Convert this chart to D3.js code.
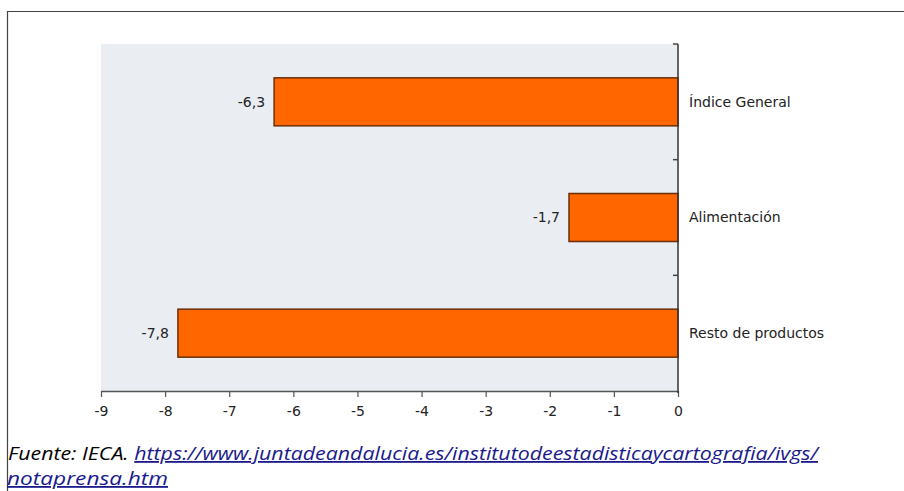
<!DOCTYPE html>
<html>
<head>
<meta charset="utf-8">
<script src="https://cdn.jsdelivr.net/npm/d3@7"></script>
<style>
  html, body { margin: 0; padding: 0; background: #fff; }
  svg { display: block; }
</style>
</head>
<body>
<svg id="chart" width="904" height="491"></svg>
<script>
// Variación interanual de ventas (%), por tipo de producto
const categories = ["Índice General", "Alimentación", "Resto de productos"];
const values = [-6.3, -1.7, -7.8];
const xTicks = [-9, -8, -7, -6, -5, -4, -3, -2, -1, 0];
const sourceLabel = "Fuente: IECA. ";
const sourceUrlLine1 = "https://www.juntadeandalucia.es/institutodeestadisticaycartografia/ivgs/";
const sourceUrlLine2 = "notaprensa.htm";

const svg = d3.select("#chart");
const plot = { left: 101, right: 678, top: 44, bottom: 391 };
const labelFont = "DejaVu Sans, Verdana, sans-serif";
const labelSize = 14;

// Marco exterior (línea superior e izquierda)
svg.append("path")
  .attr("d", "M7.5,491 V11.5 H904")
  .attr("fill", "none")
  .attr("stroke", "#444")
  .attr("stroke-width", 1.2);

// Fondo del área de trazado
svg.append("rect")
  .attr("x", plot.left).attr("y", plot.top)
  .attr("width", plot.right - plot.left).attr("height", plot.bottom - plot.top)
  .attr("fill", "#eaedf1");

const x = d3.scaleLinear().domain([-9, 0]).range([plot.left, plot.right]);
const y = d3.scaleBand().domain(categories).range([plot.top, plot.bottom])
  .paddingInner(0.585).paddingOuter(0.2925);
const yGrid = d3.scaleBand().domain(categories).range([plot.top, plot.bottom]);

// Barras
svg.append("g").selectAll("rect")
  .data(categories)
  .join("rect")
  .attr("x", (d, i) => x(values[i]))
  .attr("y", d => y(d))
  .attr("width", (d, i) => x(0) - x(values[i]))
  .attr("height", y.bandwidth())
  .attr("fill", "#ff6600")
  .attr("stroke", "#6a2f06")
  .attr("stroke-width", 1.5);

// Etiquetas de valor
const fmt = v => d3.format(".1f")(v).replace(".", ",").replace("−", "-");
svg.append("g").selectAll("text")
  .data(categories)
  .join("text")
  .attr("x", (d, i) => x(values[i]) - 9)
  .attr("y", d => y(d) + y.bandwidth() / 2)
  .attr("dy", "0.35em")
  .attr("text-anchor", "end")
  .attr("font-family", labelFont)
  .attr("font-size", labelSize)
  .attr("fill", "#222")
  .text((d, i) => fmt(values[i]));

// Eje horizontal
const xAxis = svg.append("g")
  .attr("transform", `translate(0,${plot.bottom})`)
  .call(d3.axisBottom(x).tickValues(xTicks).tickFormat(d => String(d)).tickSize(6).tickPadding(9).tickSizeOuter(0));
xAxis.select(".domain").attr("stroke", "#555").attr("stroke-width", 1.5);
xAxis.selectAll(".tick line").attr("stroke", "#555").attr("stroke-width", 1.2);
xAxis.selectAll("text")
  .attr("font-family", labelFont)
  .attr("font-size", labelSize)
  .attr("fill", "#222");

// Eje vertical en el cero, con marcas entre categorías
const boundaries = categories.map(c => yGrid(c));
svg.append("line")
  .attr("x1", x(0)).attr("x2", x(0))
  .attr("y1", plot.top).attr("y2", plot.bottom + 2)
  .attr("stroke", "#333").attr("stroke-width", 1.5);
svg.append("g").selectAll("line")
  .data(boundaries)
  .join("line")
  .attr("x1", x(0) - 5).attr("x2", x(0))
  .attr("y1", d => d).attr("y2", d => d)
  .attr("stroke", "#444").attr("stroke-width", 1.5);

// Nombres de categoría a la derecha del eje
svg.append("g").selectAll("text")
  .data(categories)
  .join("text")
  .attr("x", x(0) + 11)
  .attr("y", d => y(d) + y.bandwidth() / 2)
  .attr("dy", "0.35em")
  .attr("font-family", labelFont)
  .attr("font-size", labelSize)
  .attr("fill", "#222")
  .text(d => d);

// Fuente
const src = svg.append("text")
  .attr("x", 8).attr("y", 460)
  .attr("font-family", "Open Sans, sans-serif")
  .attr("font-style", "italic")
  .attr("font-size", 18)
  .attr("textLength", 810)
  .attr("lengthAdjust", "spacingAndGlyphs");
src.append("tspan").attr("fill", "#000").text(sourceLabel);
src.append("tspan").attr("fill", "#1a1a8c").attr("text-decoration", "underline").text(sourceUrlLine1);
svg.append("text")
  .attr("x", 7).attr("y", 485)
  .attr("font-family", "Open Sans, sans-serif")
  .attr("font-style", "italic")
  .attr("font-size", 18)
  .attr("textLength", 161)
  .attr("lengthAdjust", "spacingAndGlyphs")
  .attr("fill", "#1a1a8c")
  .attr("text-decoration", "underline")
  .text(sourceUrlLine2);
</script>
</body>
</html>
